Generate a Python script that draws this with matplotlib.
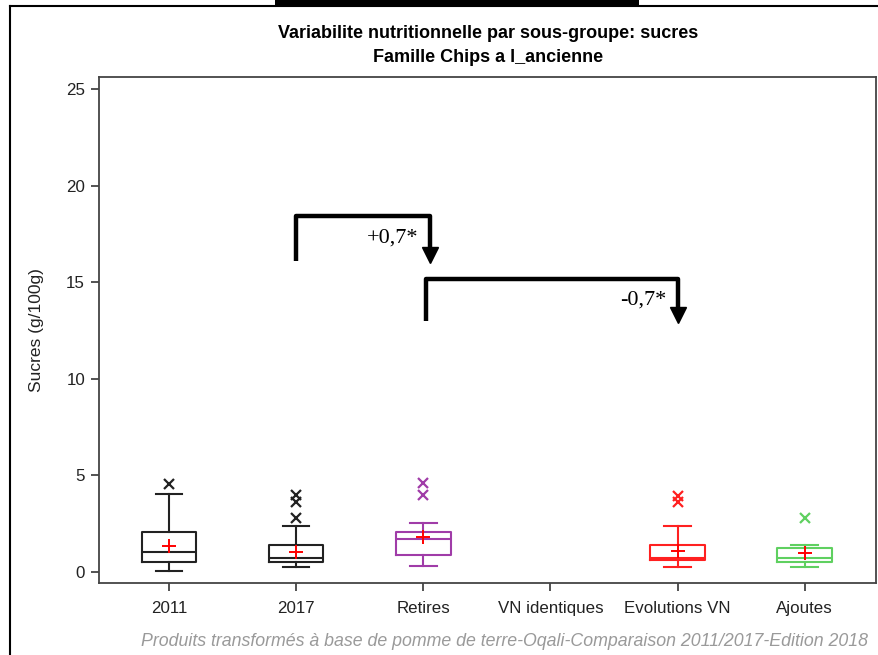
import matplotlib
matplotlib.use("Agg")
import matplotlib.pyplot as plt
from matplotlib.patches import Rectangle
from matplotlib.lines import Line2D

categories = ["2011", "2017", "Retires", "VN identiques", "Evolutions VN", "Ajoutes"]
whislo = [0.03, 0.24, 0.31, None, 0.24, 0.24]
q1 = [0.53, 0.53, 0.88, None, 0.60, 0.53]
med = [1.05, 0.72, 1.73, None, 0.74, 0.74]
q3 = [2.05, 1.38, 2.05, None, 1.38, 1.23]
whishi = [4.04, 2.38, 2.54, None, 2.38, 1.38]
means = [1.35, 1.02, 1.80, None, 1.10, 0.97]
outliers = [[4.54], [3.97, 3.62, 2.81], [4.59, 4.0], [], [3.95, 3.6], [2.81]]
colors = ["#222222", "#222222", "#A03CA8", "#000000", "#FF2020", "#5FD060"]

brackets = [(1, 2.05, 16.1, 18.4, "+0,7*"), (2.02, 4.0, 13.0, 15.15, "-0,7*")]

title = "Variabilite nutritionnelle par sous-groupe: sucres\nFamille Chips a l_ancienne"
ylabel = "Sucres (g/100g)"
footer = "Produits transformés à base de pomme de terre-Oqali-Comparaison 2011/2017-Edition 2018"

plt.rcParams['font.family'] = ['Liberation Sans', 'DejaVu Sans']

fig = plt.figure(figsize=(8.79, 6.55), dpi=100)
ax = fig.add_axes([99/879, 1 - 583/655, (876-99)/879, (583-77)/655])

for i, cat in enumerate(categories):
    if med[i] is None:
        continue
    st = dict(whislo=whislo[i], q1=q1[i], med=med[i], q3=q3[i], whishi=whishi[i],
              mean=means[i], fliers=outliers[i], label=cat)
    c = colors[i]
    ax.bxp([st], positions=[i], widths=0.43, capwidths=0.21, showmeans=True,
           boxprops=dict(color=c, lw=1.5), whiskerprops=dict(color=c, lw=1.5),
           capprops=dict(color=c, lw=1.5), medianprops=dict(color=c, lw=1.5),
           meanprops=dict(marker='+', markeredgecolor='red', markersize=10, markeredgewidth=1.4),
           flierprops=dict(marker='x', markeredgecolor=c, markersize=7, markeredgewidth=1.6))

ax.set_xlim(-0.55, 5.56)
ax.set_ylim(-0.57, 25.62)
ax.set_xticks(range(len(categories)))
ax.set_xticklabels(categories)
ax.set_yticks([0, 5, 10, 15, 20, 25])
ax.tick_params(axis='both', labelsize=12.2, length=6, width=1.3, color='#444444', labelcolor='#222222', pad=4)
ax.tick_params(axis='x', pad=7)
for s in ax.spines.values():
    s.set_color('#444444')
    s.set_linewidth(1.3)
ax.set_ylabel(ylabel, fontsize=12.5, color='#222222', labelpad=16)

for x0, x1, ylo, yhi, lab in brackets:
    ax.plot([x0, x0, x1, x1], [ylo, yhi, yhi, ylo + 0.55], color='black', lw=3.2,
            solid_joinstyle='round', solid_capstyle='butt')
    ax.plot([x1], [ylo + 0.3], marker='v', color='black', markersize=11)
    ax.text(x1 - 0.09, yhi - 1.1, lab, ha='right', va='center', fontsize=16,
            family=['Liberation Serif', 'DejaVu Serif'])

fig.text(488/879, 1 - 45.5/655, title, ha='center', va='center', fontsize=13,
         fontweight='bold', linespacing=1.6)
fig.text(868/879, 1 - 641/655, footer, ha='right', va='center', fontsize=12.8,
         style='italic', color='#9a9a9a')

# outer frame and top bar
fig.add_artist(Line2D([9.5/879, 9.5/879], [0, 1 - 5.5/655], transform=fig.transFigure, color='black', lw=1.5))
fig.add_artist(Line2D([9.5/879, 1], [1 - 5.5/655, 1 - 5.5/655], transform=fig.transFigure, color='black', lw=1.5))
fig.add_artist(Rectangle((275/879, 1 - 5/655), (639-275)/879, 5/655, transform=fig.transFigure,
                         color='black', lw=0))

fig.savefig("out.png", dpi=100)
